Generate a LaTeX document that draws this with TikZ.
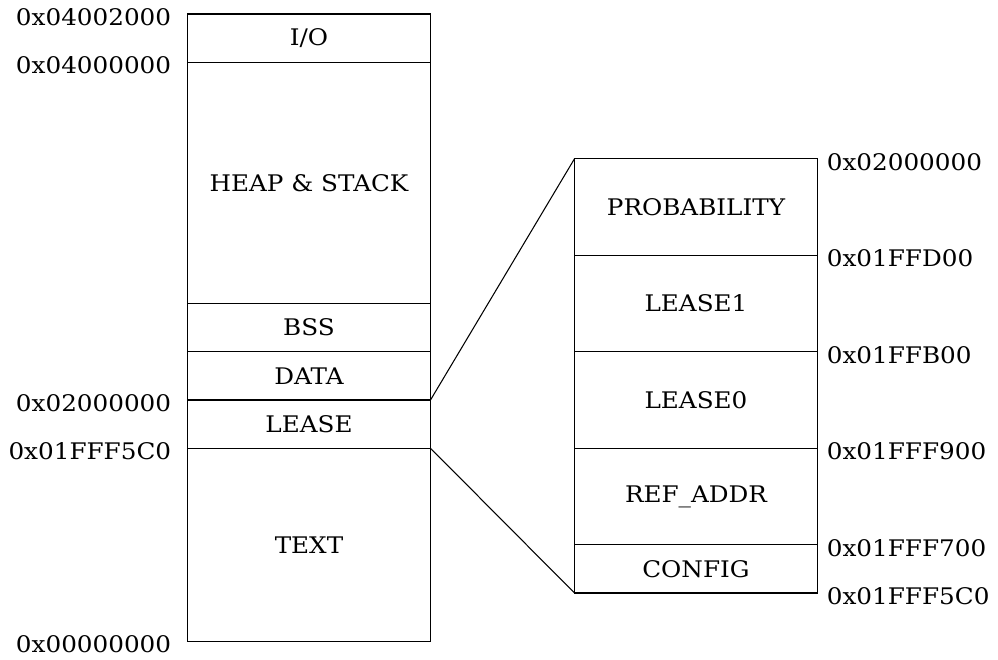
\documentclass[tikz,border=0pt]{standalone}
\usepackage{fontspec}
\setmainfont{DejaVu Serif}[FakeStretch=1.08]
\usetikzlibrary{positioning}

\begin{document}
\begin{tikzpicture}[x=1cm,y=1cm, every node/.style={font=\fontsize{13}{15}\selectfont, align=center},
    seg/.style={draw, line width=0.6pt, minimum width=4.86cm, inner sep=0pt, outer sep=0pt},
    addrL/.style={anchor=east, inner sep=0pt, xshift=-0.32cm, yshift=-0.06cm},
    addrR/.style={anchor=west, inner sep=0pt, xshift=0.18cm, yshift=-0.06cm}]
  \useasboundingbox (0,0) rectangle (19.96,13.18);
  % whole memory map
  \node[seg, minimum height=0.965cm] (io) at (6.18,12.4175) {I/O};
  \node[seg, minimum height=4.825cm, below=0pt of io] (heap) {HEAP \& STACK};
  \node[seg, minimum height=0.965cm, below=0pt of heap] (bss) {BSS};
  \node[seg, minimum height=0.965cm, below=0pt of bss] (data) {DATA};
  \node[seg, minimum height=0.965cm, below=0pt of data] (lease) {LEASE};
  \node[seg, minimum height=3.86cm, below=0pt of lease] (text) {TEXT};
  % lease region, zoomed in
  \node[seg, minimum height=1.93cm] (prob) at (13.92,9.04) {PROBABILITY};
  \node[seg, minimum height=1.93cm, below=0pt of prob] (lease1) {LEASE1};
  \node[seg, minimum height=1.93cm, below=0pt of lease1] (lease0) {LEASE0};
  \node[seg, minimum height=1.93cm, below=0pt of lease0] (refaddr) {REF\_ADDR};
  \node[seg, minimum height=0.965cm, below=0pt of refaddr] (config) {CONFIG};
  \draw[line width=0.6pt] (lease.north east) -- (prob.north west);
  \draw[line width=0.6pt] (lease.south east) -- (config.south west);
  % addresses
  \node[addrL] (aIOtop) at (io.north west) {0x04002000};
  \node[addrL] (aIObot) at (io.south west) {0x04000000};
  \node[addrL] (aLtop) at (lease.north west) {0x02000000};
  \node[addrL] (aLbot) at (lease.south west) {0x01FFF5C0};
  \node[addrL] (aZero) at (text.south west) {0x00000000};
  \node[addrR] (rProb) at (prob.north east) {0x02000000};
  \node[addrR] (rL1) at (prob.south east) {0x01FFD00};
  \node[addrR] (rL0) at (lease1.south east) {0x01FFB00};
  \node[addrR] (rRef) at (lease0.south east) {0x01FFF900};
  \node[addrR] (rCfg) at (refaddr.south east) {0x01FFF700};
  \node[addrR] (rEnd) at (config.south east) {0x01FFF5C0};
\end{tikzpicture}
\end{document}
